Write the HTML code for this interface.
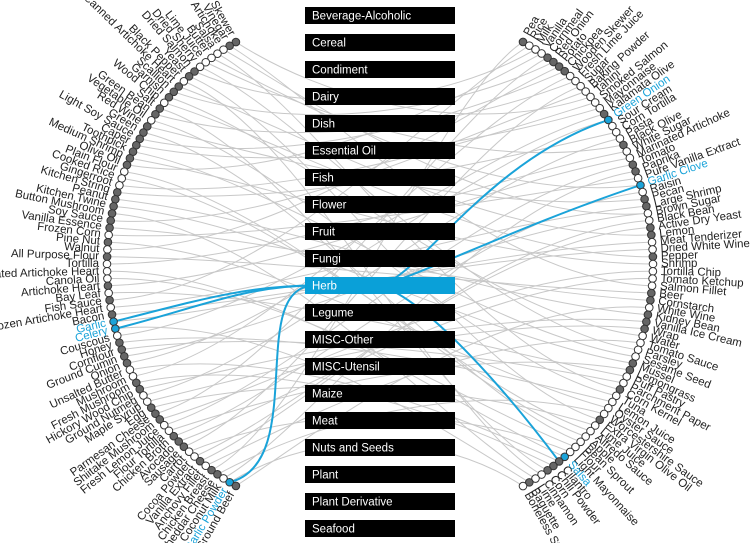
<!DOCTYPE html>
<html><head><meta charset="utf-8">
<style>
html,body{margin:0;padding:0;background:#fff;}
svg{display:block;font-family:"Liberation Sans",sans-serif;}
</style></head>
<body>
<svg id="chart" width="750" height="543" viewBox="0 0 750 543" xmlns="http://www.w3.org/2000/svg">
<g id="links"></g>
<g id="hlinks"></g>
<g id="boxes"></g>
<g id="dots"></g>
<g id="labels"></g>
</svg>
<script>
const categories = ["Beverage-Alcoholic","Cereal","Condiment","Dairy","Dish","Essential Oil","Fish","Flower","Fruit","Fungi","Herb","Legume","MISC-Other","MISC-Utensil","Maize","Meat","Nuts and Seeds","Plant","Plant Derivative","Seafood"];
const selectedCategory = "Herb";
const leftIngredients = ["Skewer","Vinegar","Artichoke","Salsa","Butter","Lime Juice","Dried Sherry","Dried Salmon","Yeast","Black Pepper","Canned Artichoke Heart","Scallion","Garnish","Wood Chip","Salt","Green Bean","Vegetable Oil","Red Wine","Green","Light Soy Sauce","Caper","Toothpick","Medium Shrimp","Olive Oil","Plain Flour","Cooked Rice","Gingerroot","Kitchen String","Peanut","Kitchen Twine","Button Mushroom","Soy Sauce","Vanilla Essence","Frozen Corn","Pine Nut","Walnut","All Purpose Flour","Tortilla","Marinated Artichoke Heart","Canola Oil","Artichoke Heart","Bay Leaf","Fish Sauce","Frozen Artichoke Heart","Bacon","Garlic","Celery","Couscous","Honey","Cornflour","Ground Cumin","Onion","Unsalted Butter","Mushroom","Fresh Mushroom","Hickory Wood Chip","Ground Nutmeg","Maple Syrup","Egg","Parmesan Cheese","Shiitake Mushroom","Fresh Lemon Juice","Flour Tortilla","Chicken Broth","Avocado","Sausage","Carrot","Cocoa Powder","Vanilla Extract","Anchovy Fillet","Chicken Breast","Cheddar Cheese","Coconut Milk","Garlic Powder","Ground Beef"];
const leftFill = "ggwwwwwggwgggwggwgggggggwwwggggggwgwgwwwgwgwgbbwggggwwggwwgggwwgggwwgwggwbg";
const rightIngredients = ["Pea","Rice","Milk","Vanilla","Cornmeal","Red Onion","Potato","Chickpea","Wooden Skewer","Fresh Lime Juice","Sugar","Baking Powder","Tahini","Smoked Salmon","Mayonnaise","Kalamata Olive","Green Onion","Sour Cream","Corn Tortilla","Pasta","Black Olive","White Sugar","Marinated Artichoke","Tomato","Paprika","Pure Vanilla Extract","Garlic Clove","Raisin","Pecan","Large Shrimp","Brown Sugar","Black Bean","Active Dry Yeast","Lemon","Meat Tenderizer","Dried White Wine","Pepper","Shrimp","Tortilla Chip","Tomato Ketchup","Salmon Fillet","Beer","Cornstarch","White Wine","Kidney Bean","Vanilla Ice Cream","Wrap","Water","Tomato Sauce","Parsley","Sesame Seed","Mussel","Lemongrass","Puff Pastry","Parchment Paper","Corn Kernel","Tuna","Lemon Juice","Oyster Sauce","Worcestershire Sauce","Extra Virgin Olive Oil","Lime Juice","Alfredo Sauce","Apple","Bean Sprout","Flour","Light Mayonnaise","Salsa","Cilantro","Chili Powder","Corn","Cinnamon","Lime","Baguette","Boneless Steak"];
const rightFill = "gwwwggggwwwwwwwgbwwwgwwggwbwggwwggwwgwwwwggwgggwwwwggwwgwwwwgwwwwwwbgggwwg";
const grayLinks = [[0,12],[1,40],[3,55],[5,20],[7,2],[8,60],[10,33],[11,5],[12,47],[14,70],[15,9],[17,28],[18,64],[20,14],[21,50],[22,37],[23,3],[25,62],[27,18],[28,44],[30,72],[31,11],[33,25],[34,58],[35,6],[36,41],[38,67],[40,22],[41,53],[42,1],[44,35],[47,15],[48,57],[50,30],[52,68],[53,8],[55,45],[56,19],[58,61],[59,4],[60,38],[62,52],[63,27],[65,10],[66,66],[67,32],[69,48],[70,0],[71,59],[72,24],[74,43],[2,30],[6,49],[9,71],[13,36],[16,56],[19,7],[24,63],[26,13],[29,51],[32,42],[37,21],[39,65],[43,29],[45,34],[49,54],[51,16],[54,69],[57,46],[61,23],[64,39],[68,31],[73,74],[4,26],[46,73]];
const herbLeft = ["Garlic","Celery","Garlic Powder"];
const herbRight = ["Green Onion","Garlic Clove","Cilantro"];

const NS="http://www.w3.org/2000/svg";
const L={cx:362.5,cy:264,r:255.5,a0:240.3,a1:119.7};
const R={cx:398.4,cy:264,r:254.6,a0:-60.7,a1:60.7};
const BOX_X=305,BOX_W=150,BOX_H=17,BOX_Y0=7,BOX_STEP=27;
function ang(side,i,n){return side.a0+(side.a1-side.a0)*i/(n-1);}
function pos(side,i,n,extra){const a=ang(side,i,n)*Math.PI/180;const r=side.r+(extra||0);return [side.cx+r*Math.cos(a),side.cy+r*Math.sin(a)];}
function mk(tag,attrs,parent){const e=document.createElementNS(NS,tag);for(const k in attrs)e.setAttribute(k,attrs[k]);parent.appendChild(e);return e;}
const gl=document.getElementById('links'),hl=document.getElementById('hlinks'),gb=document.getElementById('boxes'),gd=document.getElementById('dots'),gt=document.getElementById('labels');

grayLinks.forEach(([a,b])=>{
  const p=pos(L,a,leftIngredients.length),q=pos(R,b,rightIngredients.length);
  const c1=[p[0]+(380-p[0])*0.6,p[1]+(264-p[1])*0.25],c2=[q[0]+(380-q[0])*0.6,q[1]+(264-q[1])*0.25];
  const e=mk('path',{d:`M${p[0]},${p[1]} C${c1[0]},${c1[1]} ${c2[0]},${c2[1]} ${q[0]},${q[1]}`,fill:'none',stroke:'#c8c8c8','stroke-width':1},gl);
  
  
});
const hi=categories.indexOf(selectedCategory);
const hy=BOX_Y0+hi*BOX_STEP+BOX_H/2;
herbLeft.forEach(n=>{
  const i=leftIngredients.indexOf(n);const p=pos(L,i,leftIngredients.length);
  const e=mk('path',{d:`M${p[0]},${p[1]} C${p[0]+80},${p[1]-20} ${BOX_X-60},${hy} ${BOX_X+10},${hy}`,fill:'none',stroke:'#1aa3d9','stroke-width':2},hl);
  
  
});
herbRight.forEach(n=>{
  const i=rightIngredients.indexOf(n);const p=pos(R,i,rightIngredients.length);
  const down=p[1]>hy;
  const c1=down?[425,300]:[420,hy-10];
  const c2=down?[p[0]-60,p[1]-80]:[p[0]-120,p[1]+40];
  const e=mk('path',{d:`M380,${hy} C${c1[0]},${c1[1]} ${c2[0]},${c2[1]} ${p[0]},${p[1]}`,fill:'none',stroke:'#1aa3d9','stroke-width':2},hl);
  
  
});
categories.forEach((c,i)=>{
  const y=BOX_Y0+i*BOX_STEP;const sel=c===selectedCategory;
  const g=mk('g',{},gb);
  
  
  mk('rect',{x:BOX_X,y:y,width:BOX_W,height:BOX_H,fill:sel?'#0aa0d8':'#000'},g);
  const t=mk('text',{x:BOX_X+7,y:y+12.5,fill:'#fff','font-size':'11.5'},g);t.textContent=c;
});
function drawSide(side,names,fill,left){
  names.forEach((n,i)=>{
    const p=pos(side,i,names.length);const f=fill.charAt(i)||'w';
    const col=f==='g'?'#666':f==='b'?'#1aa3d9':'#fff';
    const d=mk('circle',{cx:p[0],cy:p[1],r:3.8,fill:col,stroke:'#333','stroke-width':1},gd);
    
    
    const a=ang(side,i,names.length);const lp=pos(side,i,names.length,8);
    const t=mk('text',{x:0,y:0,'font-size':'11.5',fill:f==='b'?'#1aa3d9':'#222','text-anchor':left?'end':'start','dominant-baseline':'central',transform:`translate(${lp[0]},${lp[1]}) rotate(${left?a-180:a})`},gt);
    t.textContent=n;
    
    
  });
}
drawSide(L,leftIngredients,leftFill,true);
drawSide(R,rightIngredients,rightFill,false);
</script>
</body></html>
